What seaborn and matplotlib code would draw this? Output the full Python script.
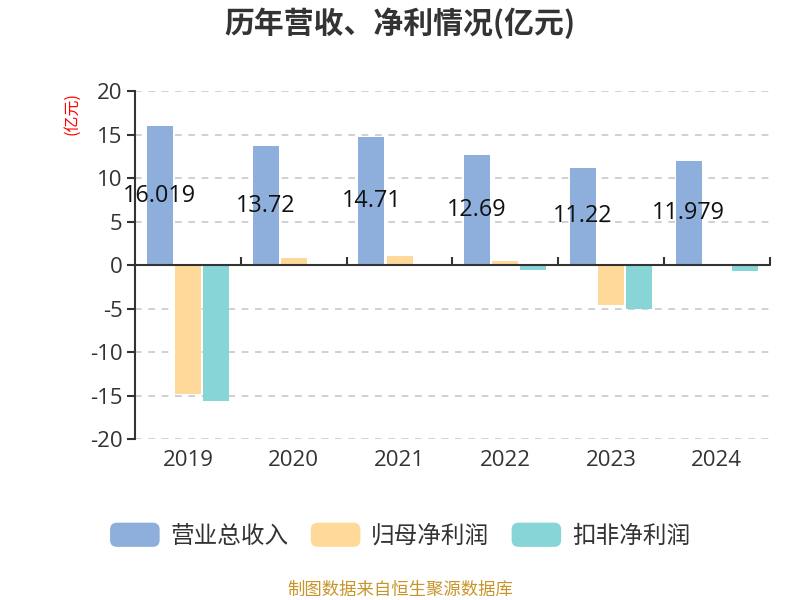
import matplotlib
matplotlib.use("Agg")
import matplotlib.pyplot as plt
from matplotlib.patches import FancyBboxPatch
from matplotlib.legend_handler import HandlerPatch
import seaborn as sns
import pandas as pd

years = ["2019", "2020", "2021", "2022", "2023", "2024"]
revenue = [16.019, 13.72, 14.71, 12.69, 11.22, 11.979]
net_profit = [-14.85, 0.85, 1.03, 0.54, -4.6, 0.04]
deducted_profit = [-15.6, 0.06, 0.08, -0.5, -5.05, -0.72]
revenue_labels = ["16.019", "13.72", "14.71", "12.69", "11.22", "11.979"]
series_names = ["营业总收入", "归母净利润", "扣非净利润"]
colors = ["#8EAEDB", "#FFD999", "#88D5D8"]
y_ticks = [-20, -15, -10, -5, 0, 5, 10, 15, 20]

sns.set_theme(style="white")
plt.rcParams["font.family"] = ["Open Sans", "Noto Sans CJK SC", "DejaVu Sans"]
plt.rcParams["axes.unicode_minus"] = False

df = pd.DataFrame({
    "year": years * 3,
    "value": revenue + net_profit + deducted_profit,
    "series": [series_names[0]] * 6 + [series_names[1]] * 6 + [series_names[2]] * 6,
})

fig = plt.figure(figsize=(8, 6), dpi=100)
ax = fig.add_axes([0.169, 0.268, 0.793, 0.58])

sns.barplot(data=df, x="year", y="value", hue="series", palette=colors,
            width=0.8, gap=0.08, saturation=1, ax=ax, legend=False,
            edgecolor="none")

ax.set_ylim(-20, 20)
ax.set_xlim(-0.5, len(years) - 0.5)
ax.set_yticks(y_ticks)
ax.set_yticklabels([str(t) for t in y_ticks])
ax.set_xlabel("")
ax.set_ylabel("")

for t in y_ticks:
    if t != 0:
        ax.axhline(t, color="#c8c8c8", lw=1.2, ls=(0, (4, 4)), zorder=0)

for s in ["top", "right", "bottom"]:
    ax.spines[s].set_visible(False)
ax.spines["left"].set_color("#333333")
ax.spines["left"].set_linewidth(1.5)

ax.tick_params(axis="y", length=6, width=1.5, color="#333333",
               labelsize=16, labelcolor="#333333", left=True, pad=3)
ax.tick_params(axis="x", length=0, labelsize=16, labelcolor="#333333", pad=8)

# zero line with category-boundary ticks
ax.axhline(0, color="#333333", lw=1.5, zorder=3)
zero_axis = ax.secondary_xaxis(0.5)
zero_axis.set_xticks([i + 0.5 for i in range(len(years))])
zero_axis.set_xticklabels([])
zero_axis.spines["bottom"].set_visible(False)
zero_axis.tick_params(axis="x", direction="out", length=6, width=1.5, color="#333333")

# revenue labels at the middle of each revenue bar
slot = 0.8 / 3
for i, v in enumerate(revenue):
    ax.text(i - slot, v / 2, revenue_labels[i],
            ha="center", va="center", fontsize=16.8, color="#111111", zorder=5)

fig.text(0.5, 0.962, "历年营收、净利情况(亿元)", ha="center", va="center",
         fontsize=21.5, fontweight="bold", color="#333333",
         family=["Noto Sans CJK SC", "DejaVu Sans"])
fig.text(0.09, 0.81, "(亿元)", ha="center", va="center", rotation=90,
         fontsize=11.5, color="red", family=["Noto Sans CJK SC", "DejaVu Sans"])
fig.text(0.5, 0.017, "制图数据来自恒生聚源数据库", ha="center", va="center",
         fontsize=12.5, color="#C8952A", family=["Noto Sans CJK SC", "DejaVu Sans"])


class RoundHandler(HandlerPatch):
    def create_artists(self, legend, orig_handle, xdescent, ydescent,
                       width, height, fontsize, trans):
        p = FancyBboxPatch((-xdescent, -ydescent), width, height,
                           boxstyle="round,pad=0,rounding_size=5",
                           facecolor=orig_handle.get_facecolor(),
                           edgecolor="none", transform=trans)
        return [p]


handles = [plt.Rectangle((0, 0), 1, 1, facecolor=c) for c in colors]
fig.legend(handles, series_names, loc="center", bbox_to_anchor=(0.5, 0.108),
           ncol=3, frameon=False, handlelength=2.1,
           handleheight=1.2, handletextpad=0.45, columnspacing=0.95,
           labelcolor="#333333",
           prop={"family": ["Noto Sans CJK SC", "DejaVu Sans"], "size": 17},
           handler_map={plt.Rectangle: RoundHandler()})

fig.savefig("out.png", dpi=100)
